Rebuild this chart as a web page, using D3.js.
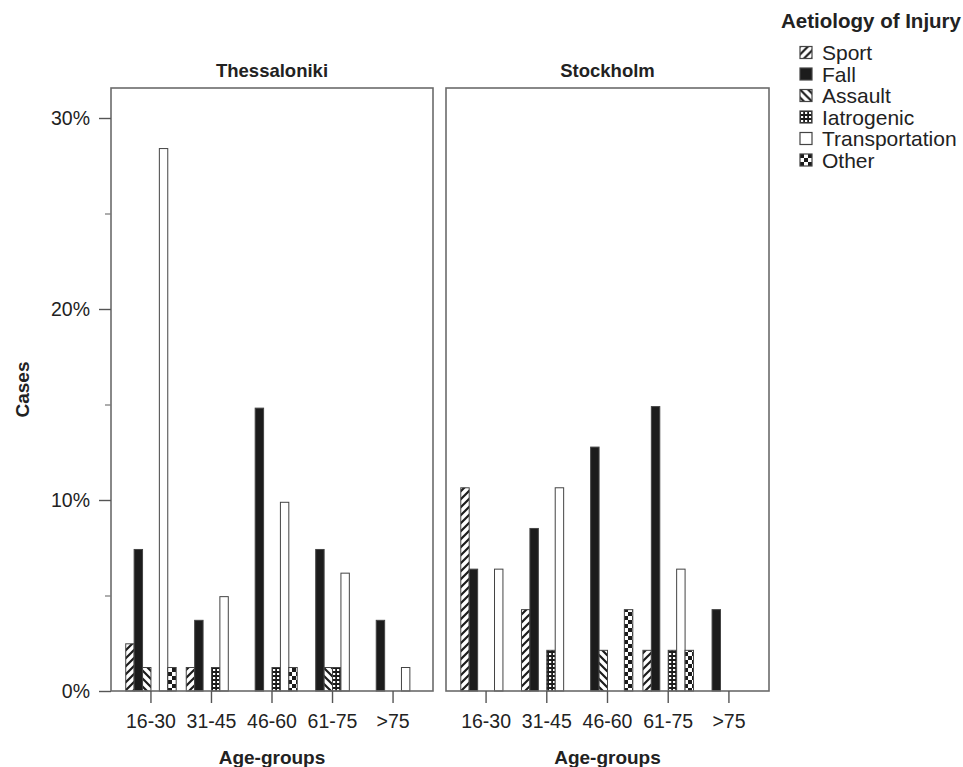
<!DOCTYPE html>
<html>
<head>
<meta charset="utf-8">
<script src="https://cdn.jsdelivr.net/npm/d3@7"></script>
<style>
  body { margin: 0; background: #fff; }
  svg { font-family: "Liberation Sans", Arial, sans-serif; }
</style>
</head>
<body>
<figure id="chart" style="margin:0"></figure>
<script>
// values in % of cases per city
const ageGroups = ["16-30", "31-45", "46-60", "61-75", ">75"];
const causes = ["Sport", "Fall", "Assault", "Iatrogenic", "Transportation", "Other"];
const cities = ["Thessaloniki", "Stockholm"];
const yTicks = [0, 10, 20, 30];

const thessaloniki = {
  Sport:          [2.47, 1.23, 0, 0, 0],
  Fall:           [7.41, 3.70, 14.81, 7.41, 3.70],
  Assault:        [1.23, 0, 0, 1.23, 0],
  Iatrogenic:     [0, 1.23, 1.23, 1.23, 0],
  Transportation: [28.40, 4.94, 9.88, 6.17, 1.23],
  Other:          [1.23, 0, 1.23, 0, 0]
};
const stockholm = {
  Sport:          [10.64, 4.26, 0, 2.13, 0],
  Fall:           [6.38, 8.51, 12.77, 14.89, 4.26],
  Assault:        [0, 0, 2.13, 0, 0],
  Iatrogenic:     [0, 2.13, 0, 2.13, 0],
  Transportation: [6.38, 10.64, 0, 6.38, 0],
  Other:          [0, 0, 4.26, 2.13, 0]
};
const cityData = [thessaloniki, stockholm];

const width = 963, height = 767;
const plotTop = 88, plotBottom = 691;
const panels = [{ x0: 111, x1: 433 }, { x0: 446, x1: 769 }];

const svg = d3.select("figure#chart").append("svg")
  .attr("width", width).attr("height", height);

// patterns
const defs = svg.append("defs");
const ink = "#1c1c1c";

let p = defs.append("pattern").attr("id", "pat-Sport").attr("patternUnits", "userSpaceOnUse")
  .attr("width", 8).attr("height", 8);
p.append("rect").attr("width", 8).attr("height", 8).attr("fill", "#fff");
p.append("path").attr("d", "M-2,2 L2,-2 M0,8 L8,0 M6,10 L10,6").attr("stroke", ink).attr("stroke-width", 2.2);

p = defs.append("pattern").attr("id", "pat-Assault").attr("patternUnits", "userSpaceOnUse")
  .attr("width", 8).attr("height", 8);
p.append("rect").attr("width", 8).attr("height", 8).attr("fill", "#fff");
p.append("path").attr("d", "M-2,6 L2,10 M0,0 L8,8 M6,-2 L10,2").attr("stroke", ink).attr("stroke-width", 2.2);

p = defs.append("pattern").attr("id", "pat-Iatrogenic").attr("patternUnits", "userSpaceOnUse")
  .attr("width", 4).attr("height", 4);
p.append("rect").attr("width", 4).attr("height", 4).attr("fill", ink);
p.append("rect").attr("x", 1).attr("y", 1).attr("width", 2.2).attr("height", 2).attr("fill", "#fff");

p = defs.append("pattern").attr("id", "pat-Other").attr("patternUnits", "userSpaceOnUse")
  .attr("width", 8).attr("height", 8);
p.append("rect").attr("width", 8).attr("height", 8).attr("fill", ink);
p.append("rect").attr("x", 4).attr("y", 0).attr("width", 4).attr("height", 4).attr("fill", "#fff");
p.append("rect").attr("x", 0).attr("y", 4).attr("width", 4).attr("height", 4).attr("fill", "#fff");

const fillFor = c => c === "Fall" ? ink : c === "Transportation" ? "#fff" : "url(#pat-" + c + ")";

const y = d3.scaleLinear().domain([0, (plotBottom - plotTop) / 19.1]).range([plotBottom, plotTop]);

cities.forEach((city, ci) => {
  const pan = panels[ci];
  const g = svg.append("g");
  const x = d3.scaleBand().domain(ageGroups).range([pan.x0, pan.x1])
    .paddingInner(0).paddingOuter(0.16);
  const xs = d3.scaleBand().domain(causes).range([0, x.bandwidth()])
    .paddingInner(0).paddingOuter(0.6);

  const rows = [];
  causes.forEach(c => cityData[ci][c].forEach((v, i) => {
    if (v > 0) rows.push({ cause: c, age: ageGroups[i], value: v });
  }));

  g.selectAll("rect.bar")
    .data(rows)
    .enter()
    .append("rect")
    .attr("class", "bar")
    .attr("x", d => x(d.age) + xs(d.cause))
    .attr("y", d => y(d.value))
    .attr("width", xs.bandwidth())
    .attr("height", d => plotBottom - y(d.value))
    .attr("fill", d => fillFor(d.cause))
    .attr("stroke", "#444")
    .attr("stroke-width", 1);

  // panel frame
  g.append("rect")
    .attr("x", pan.x0).attr("y", plotTop)
    .attr("width", pan.x1 - pan.x0).attr("height", plotBottom - plotTop)
    .attr("fill", "none").attr("stroke", "#6b6b6b").attr("stroke-width", 1.6);

  // x axis
  const ax = g.append("g")
    .attr("transform", "translate(0," + plotBottom + ")")
    .call(d3.axisBottom(x).tickSize(12).tickPadding(11));
  ax.select(".domain").remove();
  ax.selectAll("line").attr("stroke", "#555").attr("stroke-width", 1.4);
  ax.selectAll("text").attr("font-size", 19.5).attr("fill", "#222");

  g.append("text")
    .attr("x", (pan.x0 + pan.x1) / 2).attr("y", 764)
    .attr("text-anchor", "middle")
    .attr("font-size", 19).attr("font-weight", "bold").attr("fill", "#222")
    .text("Age-groups");

  g.append("text")
    .attr("x", (pan.x0 + pan.x1) / 2).attr("y", 77)
    .attr("text-anchor", "middle")
    .attr("font-size", 18.5).attr("font-weight", "bold").attr("fill", "#222")
    .text(city);
});

// y axis
const ay = svg.append("g")
  .attr("transform", "translate(" + panels[0].x0 + ",0)")
  .call(d3.axisLeft(y).tickValues(yTicks).tickSize(12).tickPadding(9)
    .tickFormat(d => d + "%"));
ay.select(".domain").remove();
ay.selectAll("line").attr("stroke", "#555").attr("stroke-width", 1.4);
ay.selectAll("text").attr("font-size", 19.5).attr("fill", "#222");

const ayMinor = svg.append("g")
  .attr("transform", "translate(" + panels[0].x0 + ",0)")
  .call(d3.axisLeft(y).tickValues([5, 15, 25]).tickSize(6).tickFormat(""));
ayMinor.select(".domain").remove();
ayMinor.selectAll("line").attr("stroke", "#777").attr("stroke-width", 1.2);

svg.append("text")
  .attr("transform", "translate(29," + (plotTop + plotBottom) / 2 + ") rotate(-90)")
  .attr("text-anchor", "middle")
  .attr("font-size", 19).attr("font-weight", "bold").attr("fill", "#222")
  .text("Cases");

// legend
const lg = svg.append("g");
lg.append("text")
  .attr("x", 961).attr("y", 28)
  .attr("text-anchor", "end")
  .attr("font-size", 20.5).attr("font-weight", "bold").attr("fill", "#222")
  .text("Aetiology of Injury");

const li = lg.selectAll("g.item").data(causes).enter().append("g")
  .attr("class", "item")
  .attr("transform", (d, i) => "translate(800," + (46.5 + i * 21.5) + ")");
li.append("rect")
  .attr("width", 12).attr("height", 12)
  .attr("fill", d => fillFor(d))
  .attr("stroke", "#444").attr("stroke-width", 1.2);
li.append("text")
  .attr("x", 22).attr("y", 13.5)
  .attr("font-size", 21).attr("fill", "#222")
  .text(d => d);
</script>
</body>
</html>
